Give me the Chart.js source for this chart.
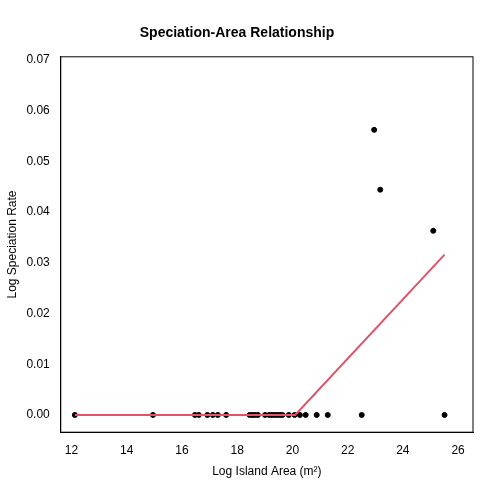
<!DOCTYPE html>
<html><head><script src="https://cdn.jsdelivr.net/npm/chart.js@4"></script>
<style>body{margin:0;background:#fff}#w{width:504px;height:504px}</style></head>
<body><div id="w"><canvas id="c"></canvas></div>
<script>
const areaX = [12.12,14.95,16.47,16.61,16.92,17.12,17.30,17.60,18.45,18.54,18.64,18.75,19.01,19.16,19.26,19.36,19.45,19.55,19.64,19.87,20.08,20.27,20.48,20.88,21.28,22.51,25.51,22.96,23.18,25.10];
const rateY = [0,0,0,0,0,0,0,0,0,0,0,0,0,0,0,0,0,0,0,0,0,0,0,0,0,0,0,0.0562,0.0444,0.0363];
const fitX = [12.12,20.1,25.51];
const fitY = [0,0,0.0316];
const yTicks = [0,0.01,0.02,0.03,0.04,0.05,0.06,0.07];

new Chart(document.getElementById('c'), {
  type: 'scatter',
  data: { datasets: [
    { data: fitX.map((x,i)=>({x, y: fitY[i]})), showLine: true, borderColor: '#df536b', borderWidth: 2, pointRadius: 0 },
    { data: areaX.map((x,i)=>({x, y: rateY[i]})), backgroundColor: '#000', borderColor: '#000', pointRadius: 2.5 }
  ]},
  options: {
    responsive: true, maintainAspectRatio: false, animation: false,
    layout: { padding: { top: 13, right: 31, bottom: 21, left: 1 } },
    plugins: {
      legend: { display: false }, tooltip: { enabled: false },
      title: { display: true, text: 'Speciation-Area Relationship', color: '#000', font: { family: 'Liberation Sans', size: 14, weight: 'bold' }, padding: { top: 12, bottom: 15 } }
    },
    scales: {
      x: { min: 11.61, max: 26.54, border: { color: '#000' }, grid: { display: false, drawTicks: true },
        afterBuildTicks: a => { a.ticks = [12,14,16,18,20,22,24,26].map(v=>({value:v})); },
        ticks: { color: '#000', font: { family: 'Liberation Sans', size: 12 } },
        title: { display: true, text: 'Log Island Area (m²)', color: '#000', font: { family: 'Liberation Sans', size: 12 } } },
      y: { min: -0.0034, max: 0.0706, border: { color: '#000' }, grid: { display: false },
        afterBuildTicks: a => { a.ticks = yTicks.filter(v=>v<=0.0706).map(v=>({value:v})); },
        ticks: { color: '#000', font: { family: 'Liberation Sans', size: 12 }, callback: v => v.toFixed(2) },
        title: { display: true, text: 'Log Speciation Rate', color: '#000', font: { family: 'Liberation Sans', size: 12 } } }
    }
  },
  plugins: [{ id: 'box', afterDraw(ch) { const a = ch.chartArea, c = ch.ctx; c.save(); c.strokeStyle = '#000'; c.lineWidth = 1; c.strokeRect(a.left, a.top, a.width, a.height); c.restore(); } }]
});
</script></body></html>
